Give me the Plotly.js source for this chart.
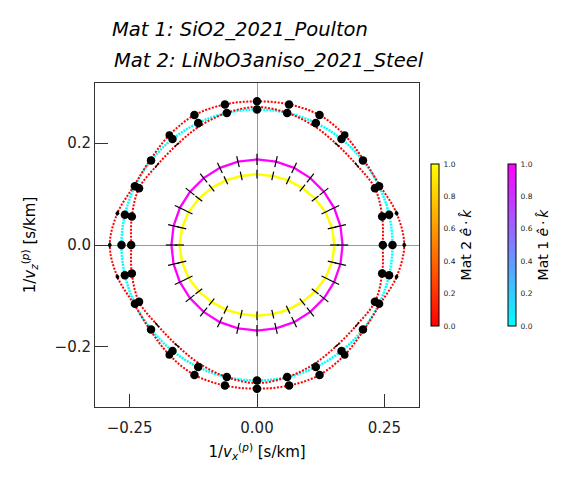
<!DOCTYPE html>
<html>
<head>
<meta charset="utf-8">
<script src="https://cdn.plot.ly/plotly-3.0.1.min.js"></script>
<style>html,body{margin:0;padding:0;background:#fff;}#plot{width:576px;height:486px;}</style>
</head>
<body>
<div id="plot"></div>
<script>
// sampled propagation directions (degrees, in the x-z plane)
const angDeg = [0, 12.86, 25.71, 38.57, 51.43, 64.29, 77.14, 90, 102.86, 115.71, 128.57, 141.43, 154.29, 167.14,
                180, 192.86, 205.71, 218.57, 231.43, 244.29, 257.14, 270, 282.86, 295.71, 308.57, 321.43, 334.29, 347.14];

// slowness magnitudes [s/km]
const mat1P = [0.168,0.168,0.168,0.168,0.168,0.168,0.168,0.168,0.168,0.168,0.168,0.168,0.168,0.168,
               0.168,0.168,0.168,0.168,0.168,0.168,0.168,0.168,0.168,0.168,0.168,0.168,0.168,0.168];
const mat1S = [0.266,0.266,0.266,0.266,0.266,0.266,0.266,0.266,0.266,0.266,0.266,0.266,0.266,0.266,
               0.266,0.266,0.266,0.266,0.266,0.266,0.266,0.266,0.266,0.266,0.266,0.266,0.266,0.266];
const mat2P = [0.152,0.151,0.149,0.146,0.143,0.141,0.139,0.139,0.139,0.141,0.143,0.146,0.149,0.151,
               0.152,0.151,0.149,0.146,0.143,0.141,0.139,0.139,0.139,0.141,0.143,0.146,0.149,0.151];
const mat2S1 = [0.247,0.252,0.257,0.251,0.252,0.259,0.266,0.271,0.266,0.259,0.252,0.251,0.257,0.252,
                0.247,0.252,0.257,0.251,0.252,0.259,0.266,0.271,0.266,0.259,0.252,0.251,0.257,0.252];
const mat2S2 = [0.289,0.281,0.268,0.268,0.276,0.283,0.283,0.282,0.283,0.283,0.276,0.268,0.268,0.281,
                0.289,0.281,0.268,0.268,0.276,0.283,0.283,0.282,0.283,0.283,0.276,0.268,0.268,0.281];

// e.k (polarisation . wave vector) per mode
const ek1P = [1,1,1,1,1,1,1,1,1,1,1,1,1,1,1,1,1,1,1,1,1,1,1,1,1,1,1,1];
const ek2P = [1,1,1,1,1,1,1,1,1,1,1,1,1,1,1,1,1,1,1,1,1,1,1,1,1,1,1,1];

// out-of-plane polarisation component per mode (0 = in plane)
const pOut1P = [0,0,0,0,0,0,0,0,0,0,0,0,0,0,0,0,0,0,0,0,0,0,0,0,0,0,0,0];
const pOut2P = [0,0,0,0,0,0,0,0,0,0,0,0,0,0,0,0,0,0,0,0,0,0,0,0,0,0,0,0];
const pOut1S = [1,1,1,1,1,1,1,1,1,1,1,1,1,1,1,1,1,1,1,1,1,1,1,1,1,1,1,1];
const pOut2S1 = [1,1,1,0,0,0,0,0,0,0,0,0,1,1, 1,1,1,0,0,0,0,0,0,0,0,0,1,1];
const pOut2S2 = [0.45,0.45,0.4,0.7,0.9,1,1,1,1,1,0.9,0.7,0.4,0.45, 0.45,0.45,0.4,0.7,0.9,1,1,1,1,1,0.9,0.7,0.4,0.45];

const tickX = [-0.25, 0, 0.25];
const tickY = [-0.2, 0, 0.2];

// ---------- build traces ----------
const rad = Math.PI/180;
function closedXY(r){
  const x = [], y = [];
  for (let i=0;i<angDeg.length;i++){ x.push(r[i]*Math.cos(angDeg[i]*rad)); y.push(r[i]*Math.sin(angDeg[i]*rad)); }
  x.push(x[0]); y.push(y[0]);
  return {x, y};
}
const autumn = [[0,'rgb(255,0,0)'],[1,'rgb(255,255,0)']];
const cool = [[0,'rgb(0,255,255)'],[1,'rgb(255,0,255)']];

function curve(r, color, width, dash){
  const p = closedXY(r);
  return {type:'scatter', mode:'lines', x:p.x, y:p.y, hoverinfo:'skip', showlegend:false,
    line:{color:color, width:width, dash:dash, shape:'spline', smoothing:1}};
}
function cbar(title, xpos){
  return {x:xpos, xanchor:'left', xpad:0, y:0.5, yanchor:'middle', ypad:0,
    len:162, lenmode:'pixels', thickness:8, thicknessmode:'pixels',
    outlinewidth:1, outlinecolor:'#000', ticks:'outside', ticklen:3, tickcolor:'rgba(0,0,0,0)',
    tickvals:[0,0.2,0.4,0.6,0.8,1], tickformat:'.1f', ticksuffix:'\u00a0\u00a0\u00a0\u00a0',
    tickfont:{family:'DejaVu Sans', size:7.5, color:'#222'},
    title:{text:title, side:'right', font:{family:'DejaVu Sans', size:14, color:'#000'}}};
}

const traces = [];
const m1 = closedXY(mat1P);
traces.push({type:'scatter', mode:'lines+markers', x:m1.x, y:m1.y, hoverinfo:'skip', showlegend:false,
  line:{color:'rgb(255,0,255)', width:2.3},
  marker:{size:0, opacity:0, color:ek1P.concat([ek1P[0]]), colorscale:cool, cmin:0, cmax:1, showscale:true,
    colorbar:cbar('Mat 1 <i>ê</i>\u2009·\u2009<i>k̂</i>', 1.276)}});
const m2 = closedXY(mat2P);
traces.push({type:'scatter', mode:'lines+markers', x:m2.x, y:m2.y, hoverinfo:'skip', showlegend:false,
  line:{color:'rgb(255,255,0)', width:2.5},
  marker:{size:0, opacity:0, color:ek2P.concat([ek2P[0]]), colorscale:autumn, cmin:0, cmax:1, showscale:true,
    colorbar:cbar('Mat 2 <i>ê</i>\u2009·\u2009<i>k̂</i>', 1.036)}});
traces.push(curve(mat1S, 'rgb(0,255,255)', 2.5, '2px,1px'));
traces.push(curve(mat2S1, 'rgb(255,0,0)', 2, '2px,1.5px'));
traces.push(curve(mat2S2, 'rgb(255,0,0)', 2, '2px,1.5px'));

// polarisation glyphs
const modes = [
  {r:mat1P, pz:pOut1P, radial:true, half:0.011},
  {r:mat2P, pz:pOut2P, radial:true, half:0.0085},
  {r:mat1S, pz:pOut1S, radial:false, half:0.006},
  {r:mat2S1, pz:pOut2S1, radial:false, half:0.006},
  {r:mat2S2, pz:pOut2S2, radial:false, half:0.006}
];
const segX = [], segY = [], dotX = [], dotY = [], dotS = [];
modes.forEach(m => {
  for (let i=0;i<angDeg.length;i++){
    const a = angDeg[i]*rad, c = Math.cos(a), s = Math.sin(a);
    const x = m.r[i]*c, y = m.r[i]*s;
    const inPlane = Math.sqrt(Math.max(0, 1 - m.pz[i]*m.pz[i]));
    if (inPlane > 0.05){
      const h = m.half*inPlane;
      const ux = m.radial ? c : -s, uy = m.radial ? s : c;
      segX.push(x-h*ux, x+h*ux, null); segY.push(y-h*uy, y+h*uy, null);
    }
    if (m.pz[i] > 0.05){ dotX.push(x); dotY.push(y); dotS.push(8.5*m.pz[i]); }
  }
});
traces.push({type:'scatter', mode:'lines', x:segX, y:segY, hoverinfo:'skip', showlegend:false,
  line:{color:'#000', width:1.2}});
traces.push({type:'scatter', mode:'markers', x:dotX, y:dotY, hoverinfo:'skip', showlegend:false,
  marker:{color:'#000', size:dotS, opacity:1, line:{width:0}}});

const axisCommon = {ticks:'inside', ticklen:13, tickwidth:1, tickcolor:'#333',
  showline:true, linecolor:'#333', linewidth:1, mirror:true,
  zeroline:true, zerolinecolor:'#999', zerolinewidth:1, showgrid:false,
  tickfont:{family:'DejaVu Sans', size:15, color:'#222'}};

const layout = {
  width:576, height:486, paper_bgcolor:'#fff', plot_bgcolor:'#fff',
  margin:{l:95, r:157, t:83, b:79},
  font:{family:'DejaVu Sans', color:'#000'},
  title:{text:'<i>Mat 1: SiO2_2021_Poulton</i>', xref:'container', x:112/576, xanchor:'left',
    yref:'container', y:1-29/486, yanchor:'middle', font:{family:'DejaVu Sans', size:19.5, color:'#000'}},
  annotations:[{text:'<i>Mat 2: LiNbO3aniso_2021_Steel</i>', xref:'paper', x:(112-95)/324, xanchor:'left',
    yref:'paper', y:(407-61)/324, yanchor:'middle', showarrow:false,
    font:{family:'DejaVu Sans', size:19.5, color:'#000'}}],
  xaxis:Object.assign({}, axisCommon, {range:[-0.318,0.318], tickvals:tickX, tickformat:'.2f', ticklabelstandoff:7,
    title:{text:'1/<i>v</i><sub><i>x</i></sub><sup>(<i>p</i>)</sup> [s/km]', standoff:10,
      font:{family:'DejaVu Sans', size:15, color:'#000'}}}),
  yaxis:Object.assign({}, axisCommon, {range:[-0.318,0.318], tickvals:tickY, tickformat:'.1f',
    title:{text:'1/<i>v</i><sub><i>z</i></sub><sup>(<i>p</i>)</sup> [s/km]', standoff:15,
      font:{family:'DejaVu Sans', size:15, color:'#000'}}})
};
Plotly.newPlot('plot', traces, layout, {staticPlot:true, displayModeBar:false});
</script>
</body>
</html>
